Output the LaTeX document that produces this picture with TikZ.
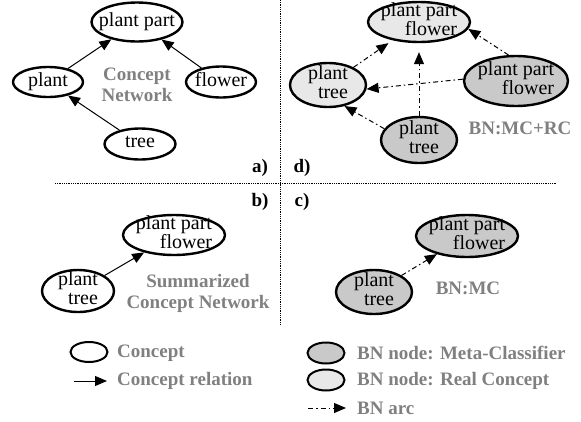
\documentclass[tikz,border=0pt]{standalone}
\usepackage{fontspec}
\setmainfont{Liberation Serif}
\usetikzlibrary{shapes.geometric,arrows.meta}
\definecolor{capgray}{gray}{0.5}
\definecolor{mcfill}{gray}{0.79}
\definecolor{rcfill}{gray}{0.91}
\newcommand\ntext[1]{\hbox to 0pt{\hss\vbox to 0pt{\vss\hbox{\begin{tabular}{@{}r@{}}#1\end{tabular}}\vss}\hss}}
\tikzset{
  concept/.style={ellipse,draw,line width=2.4pt,fill=white,inner sep=0pt},
  mcnode/.style={concept,fill=mcfill},
  rcnode/.style={concept,fill=rcfill},
  rel/.style={-{Triangle[length=12pt,width=10pt]},line width=1pt},
  bnarc/.style={rel,dash pattern=on 5pt off 3pt on 1.5pt off 3pt},
  caption/.style={font=\fontsize{19}{21}\selectfont\bfseries,text=capgray,align=center},
  legend/.style={caption,anchor=west,inner sep=0pt},
  panel/.style={font=\fontsize{19}{21}\selectfont\bfseries},
  divider/.style={densely dotted,line width=0.8pt}
}
\begin{document}
\begin{tikzpicture}[x=1pt,y=-1pt,font=\fontsize{20}{19}\selectfont]
\useasboundingbox (0,0) rectangle (581,421);
\coordinate (hl) at (55,183);
\coordinate (hr) at (557,183);
\coordinate (vt) at (280,0);
\coordinate (vb) at (280,325);
\draw [divider] (hl) -- (hr);
\draw [divider] (vt) -- (vb);
\node [panel] (pa) at (260,168) {a)};
\node [panel] (pd) at (302,168) {d)};
\node [panel] (pb) at (260,202) {b)};
\node [panel] (pc) at (302,202) {c)};

\node [concept,minimum width=91pt,minimum height=39pt] (part) at (137,22) {\ntext{plant part}};
\node [concept,minimum width=70pt,minimum height=30pt] (plant) at (48,82) {\ntext{plant}};
\node [concept,minimum width=70pt,minimum height=31pt] (flower) at (221,82) {\ntext{flower}};
\node [concept,minimum width=71pt,minimum height=31pt] (tree) at (140,144) {\ntext{tree}};
\node [caption] (cn) at (137,85) {Concept\\Network};
\draw [rel] (plant) -- (part);
\draw [rel] (flower) -- (part);
\draw [rel] (tree) -- (plant);

\node [concept,minimum width=102pt,minimum height=40pt] (sumpart) at (174,235) {\ntext{plant part\\flower}};
\node [concept,minimum width=72pt,minimum height=42pt] (sumplant) at (78,291) {\ntext{plant\\tree}};
\node [caption] (scn) at (198,293) {Summarized\\Concept Network};
\draw [rel] (sumplant) -- (sumpart);

\node [mcnode,minimum width=102pt,minimum height=42pt] (mcpart) at (467,236) {\ntext{plant part\\flower}};
\node [mcnode,minimum width=76pt,minimum height=44pt] (mcplant) at (374,292) {\ntext{plant\\tree}};
\node [caption] (bnmc) at (468,288) {BN:MC};
\draw [bnarc] (mcplant) -- (mcpart);

\node [rcnode,minimum width=102pt,minimum height=40pt] (rcpart) at (419,22) {\ntext{plant part\\flower}};
\node [rcnode,minimum width=76pt,minimum height=44pt] (rcplant) at (328,85) {\ntext{plant\\tree}};
\node [mcnode,minimum width=104pt,minimum height=50pt] (mcpart2) at (516,81) {\ntext{plant part\\flower}};
\node [mcnode,minimum width=76pt,minimum height=46pt] (mcplant2) at (419,140) {\ntext{plant\\tree}};
\node [caption] (bnmcrc) at (520,128) {BN:MC+RC};
\draw [bnarc] (mcpart2.106) -- (rcpart.-8);
\draw [bnarc] (mcpart2.178) -- (rcplant.-6);
\draw [bnarc,shorten >=9pt] (mcplant2) -- (rcpart);
\draw [bnarc] (mcplant2.162) -- (rcplant.-52);
\draw [bnarc,shorten >=5pt] (rcplant) -- (rcpart);

\node [concept,line width=2pt,minimum width=37pt,minimum height=20pt] (lgconcept) at (89,352) {};
\node [legend] (lgconcepttxt) at (117,353) {Concept};
\coordinate (relA) at (74,381);
\coordinate (relB) at (107,381);
\draw [rel] (relA) -- (relB);
\node [legend] (lgreltxt) at (117,381) {Concept relation};
\node [mcnode,line width=2pt,minimum width=37pt,minimum height=21pt] (lgmc) at (326,353) {};
\node [legend] (lgmctxt) at (357,353) {BN node: Meta-Classifier};
\node [rcnode,line width=2pt,minimum width=37pt,minimum height=21pt] (lgrc) at (326,380) {};
\node [legend] (lgrctxt) at (357,381) {BN node: Real Concept};
\coordinate (arcA) at (308,408);
\coordinate (arcB) at (346,408);
\draw [bnarc] (arcA) -- (arcB);
\node [legend] (lgarctxt) at (357,408) {BN arc};
\end{tikzpicture}
\end{document}
